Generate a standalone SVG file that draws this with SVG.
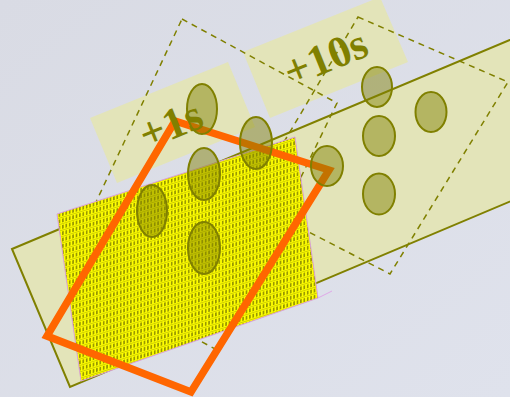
<svg xmlns="http://www.w3.org/2000/svg" width="510" height="397" viewBox="0 0 510 397">
<defs>
<style>
.pale{fill:#e3e4b9}
.dash{fill:none;stroke:#808000;stroke-width:1.5;stroke-dasharray:6 5}
.ell{fill:rgba(128,128,0,0.47);stroke:#808000;stroke-width:2}
.lbl{font-family:"Liberation Serif","Times New Roman",serif;font-weight:bold;font-size:44px;fill:#808000;text-anchor:middle}
</style>
<linearGradient id="bg" x1="0" y1="0" x2="1" y2="1">
<stop offset="0" stop-color="#d9dbe4"/>
<stop offset="1" stop-color="#dfe2ec"/>
</linearGradient>
<pattern id="hatch" width="3.4" height="6.4" patternUnits="userSpaceOnUse" patternTransform="skewY(-17)">
<rect width="3.4" height="6.4" fill="#ffff00"/>
<line x1="1.7" y1="0.8" x2="1.7" y2="4.6" stroke="#000" stroke-width="0.7"/>
<line x1="0" y1="5.9" x2="3.4" y2="5.9" stroke="#000" stroke-width="0.5" stroke-opacity="0.35"/>
</pattern>
</defs>
<rect width="510" height="397" fill="url(#bg)"/>
<g id="band">
<polygon class="pale" points="12,249 612,-3 670,134 70,387" stroke="#808000" stroke-width="2"/>
</g>
<g id="label-rect-1s">
<polygon class="pale" points="90,118 228,62 255,127 117,183"/>
</g>
<g id="label-rect-10s">
<polygon class="pale" points="243,52 380,-3 408,62 270,118"/>
</g>
<g id="dashed-frames">
<polygon class="dash" points="182,19 337,103 217,350 65,268"/>
<polygon class="dash" points="358,17 508,82 390,274 249,201"/>
</g>
<g id="mesh">
<polygon points="57,214 295,137 318,298 81,381" fill="url(#hatch)" stroke="#d9a0d9" stroke-width="1"/>
<line x1="318" y1="298" x2="332" y2="291" stroke="#e0a8e8" stroke-width="1"/>
</g>
<g id="orange-frame">
<polygon points="175,121 329,170 191,392 47,336" fill="none" stroke="#ff6600" stroke-width="7.5" stroke-linejoin="miter"/>
</g>
<g id="markers">
<ellipse class="ell" cx="202" cy="109" rx="15" ry="25"/>
<ellipse class="ell" cx="204" cy="174" rx="16" ry="26"/>
<ellipse class="ell" cx="256" cy="143" rx="16" ry="26"/>
<ellipse class="ell" cx="152" cy="211" rx="15" ry="26"/>
<ellipse class="ell" cx="204" cy="248" rx="16" ry="26"/>
<ellipse class="ell" cx="327" cy="166" rx="16" ry="20"/>
<ellipse class="ell" cx="377" cy="87" rx="15" ry="20"/>
<ellipse class="ell" cx="379" cy="136" rx="16" ry="20"/>
<ellipse class="ell" cx="431" cy="112" rx="15.5" ry="20"/>
<ellipse class="ell" cx="379" cy="194" rx="16" ry="20.5"/>
</g>
<g id="labels">
<text class="lbl" transform="translate(176,138) rotate(-22)">+1s</text>
<text class="lbl" transform="translate(331,71) rotate(-22)">+10s</text>
</g>
</svg>
